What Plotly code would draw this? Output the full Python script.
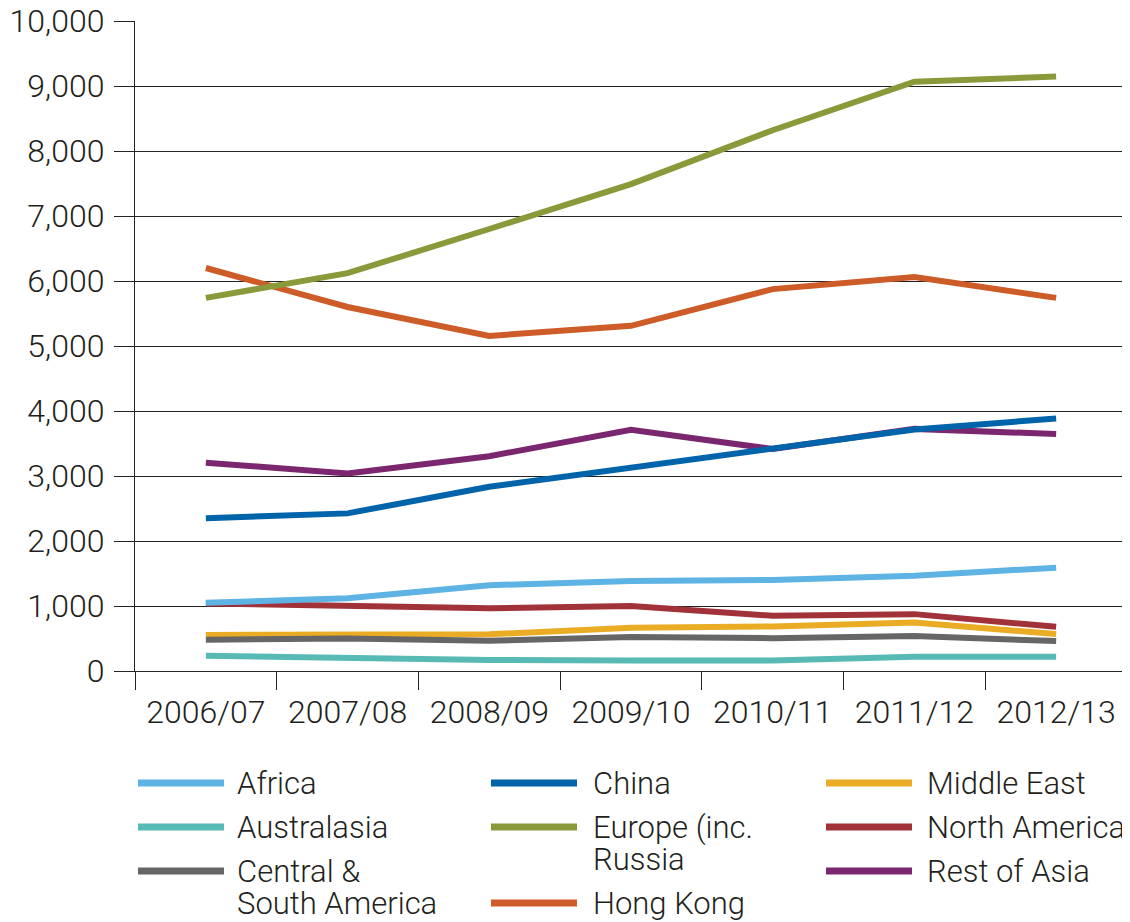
import plotly.graph_objects as go

years = ["2006/07", "2007/08", "2008/09", "2009/10", "2010/11", "2011/12", "2012/13"]

africa = [1050, 1120, 1320, 1385, 1400, 1465, 1590]
australasia = [235, 195, 170, 160, 160, 220, 220]
central_south_america = [480, 500, 465, 525, 505, 540, 460]
china = [2350, 2425, 2835, 3125, 3425, 3715, 3885]
europe = [5740, 6120, 6800, 7490, 8320, 9065, 9145]
hong_kong = [6200, 5600, 5155, 5310, 5875, 6060, 5740]
middle_east = [555, 555, 565, 665, 685, 745, 570]
north_america = [1040, 1005, 965, 1000, 850, 875, 680]
rest_of_asia = [3205, 3040, 3305, 3710, 3415, 3725, 3645]

names = ["Africa", "Australasia", "Central &<br>South America", "China",
         "Europe (inc.<br>Russia", "Hong Kong", "Middle East", "North America", "Rest of Asia"]
series = [africa, australasia, central_south_america, china, europe,
          hong_kong, middle_east, north_america, rest_of_asia]
colors = ["#5DB3E4", "#58BAB5", "#666666", "#0064AA", "#8A9A3A",
          "#CD5C28", "#EAAC24", "#A2323A", "#7B2770"]

FONT = "Roboto"
TEXT = "#231F20"
OFF = 8  # the html body adds an 8px margin, so work in page pixels minus this

fig = go.Figure()

# later series in the list sit underneath, so draw them first
for name, vals, col in reversed(list(zip(names, series, colors))):
    fig.add_trace(go.Scatter(x=years, y=vals, mode="lines", name=name.replace("<br>", " "),
                             line=dict(color=col, width=6), showlegend=False))

# plot area in page pixels: x 135..1127, y 21..671
L, R, T, B = 135 - OFF, 1127 - OFF, 21 - OFF, 671 - OFF
W, H = R - L, B - T


def px_x(p):
    return (p - OFF - L) / W


def px_y(p):
    return (B - (p - OFF)) / H


# hand-built legend in three columns
col_line_x = [137, 490, 825]
col_text_x = [235, 591, 925]
shapes = []
annotations = []
for c in range(3):
    y = 783
    for i in range(3):
        k = c * 3 + i
        shapes.append(dict(type="line", xref="paper", yref="paper",
                           x0=px_x(col_line_x[c] + 1), x1=px_x(col_line_x[c] + 87),
                           y0=px_y(y), y1=px_y(y),
                           line=dict(color=colors[k], width=7)))
        lines = names[k].split("<br>")
        for j, txt in enumerate(lines):
            annotations.append(dict(text=txt, xref="paper", yref="paper",
                                    x=px_x(col_text_x[c]), y=px_y(y + 32 * j),
                                    xanchor="left", yanchor="middle", showarrow=False,
                                    font=dict(family=FONT, size=31, color=TEXT, weight=300)))
        y += 32 * (len(lines) - 1) + 44

fig.update_layout(
    width=1130, height=922,
    margin=dict(l=L, r=1130 - R, t=T, b=922 - B, autoexpand=False),
    plot_bgcolor="white", paper_bgcolor="white",
    font=dict(family=FONT, size=32, color=TEXT, weight=300),
    shapes=shapes, annotations=annotations,
)

fig.update_yaxes(range=[0, 10000], tickvals=list(range(0, 10001, 1000)),
                 tickformat=",d", showgrid=True, gridcolor="#222222", gridwidth=1.2,
                 ticks="outside", ticklen=20, tickcolor="#222222", tickwidth=1.2,
                 showline=True, linecolor="#222222", linewidth=1.2,
                 zeroline=False, ticklabelstandoff=3, automargin=False,
                 ticklabeloverflow="allow")
fig.update_xaxes(type="category", range=[-0.5, 6.5], tickson="boundaries", ticks="outside",
                 ticklen=18, tickcolor="#222222", tickwidth=1.2, showline=True,
                 linecolor="#222222", linewidth=1.2, showgrid=False, automargin=False,
                 ticklabelstandoff=12, ticklabeloverflow="allow")

fig.write_html("out.html")
